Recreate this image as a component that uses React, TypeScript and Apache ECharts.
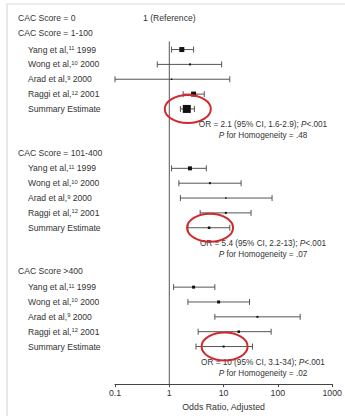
import React, { useEffect, useRef } from "react";
import * as echarts from "echarts";

const FONT = "'Liberation Sans', Arial, sans-serif";
const TEXT = "#333";
const LINE = "#555";
const RED = "#cf2a2f";

// ---- data ----
const referenceLabel = "CAC Score = 0";
const referenceNote = "1 (Reference)";
const groupLabels = ["CAC Score = 1-100", "CAC Score = 101-400", "CAC Score >400"];
const studyNames = ["Yang et al,", "Wong et al,", "Arad et al,", "Raggi et al,"];
const studyRefs = ["11", "10", "9", "12"];
const studyYears = ["1999", "2000", "2000", "2001"];
const summaryLabel = "Summary Estimate";

// odds ratio, lower / upper 95% CI; last entry of each array = summary estimate
const or1 = [1.7, 2.4, 1.1, 2.8, 2.1];
const lo1 = [1.1, 0.6, 0.1, 1.8, 1.6];
const hi1 = [2.8, 9.2, 13, 4.4, 2.9];
const wt1 = [5, 2, 1.5, 5, 8];

const or2 = [2.4, 5.6, 11, 11, 5.4];
const lo2 = [1.1, 1.5, 1.6, 3.7, 2.2];
const hi2 = [4.8, 21, 78, 32, 13];
const wt2 = [4, 2, 1.5, 2, 2.5];

const or3 = [2.8, 8.1, 42, 19, 10];
const lo3 = [1.2, 2.2, 6.9, 3.4, 3.1];
const hi3 = [6.9, 30, 257, 75, 34];
const wt3 = [3, 3, 2, 2.5, 2];

const summaryOR = ["2.1", "5.4", "10"];
const summaryCI = ["1.6-2.9", "2.2-13", "3.1-34"];
const summaryP = ["<.001", "<.001", "<.001"];
const homogeneityP = [".48", ".07", ".02"];

const xTicks = [0.1, 1, 10, 100, 1000];
const xTickLabels = ["0.1", "1", "10", "100", "1000"];
const axisTitle = "Odds Ratio, Adjusted";

// ---- layout (row positions) ----
const referenceRow = -0.13;
const headerRows = [0.87, 9.0, 16.93];
const groupStartRows = [2, 10, 18];
const refLineTop = 1.45;
const yMin = -1;
const yMax = 24.53;

const groups = [
  { or: or1, lo: lo1, hi: hi1, wt: wt1 },
  { or: or2, lo: lo2, hi: hi2, wt: wt2 },
  { or: or3, lo: lo3, hi: hi3, wt: wt3 },
];

export default function App() {
  const ref = useRef<HTMLDivElement>(null);

  useEffect(() => {
    if (!ref.current) return;
    const chart = echarts.init(ref.current, undefined, { renderer: "svg" });

    const ciData: number[][] = [];
    groups.forEach((g, gi) => {
      g.or.forEach((v, i) => {
        ciData.push([g.lo[i], g.hi[i], v, groupStartRows[gi] + i, g.wt[i]]);
      });
    });

    chart.setOption({
      animation: false,
      backgroundColor: "#fff",
      grid: { left: 115, right: 6, top: 5, bottom: 28 },
      xAxis: {
        type: "log",
        logBase: 10,
        min: xTicks[0],
        max: xTicks[xTicks.length - 1],
        position: "bottom",
        axisLine: { show: true, onZero: false, lineStyle: { color: "#444", width: 1 } },
        axisTick: { show: true, length: 3, lineStyle: { color: "#444" } },
        minorTick: { show: false },
        splitLine: { show: false },
        axisLabel: {
          fontFamily: FONT,
          fontSize: 8.8,
          color: TEXT,
          margin: 4,
          showMaxLabel: true,
          showMinLabel: true,
          formatter: (v: number) => {
            const idx = xTicks.findIndex((t) => Math.abs(Math.log10(t) - Math.log10(v)) < 1e-6);
            return idx >= 0 ? xTickLabels[idx] : "";
          },
        },
        name: axisTitle,
        nameLocation: "middle",
        nameGap: 17,
        nameTextStyle: { fontFamily: FONT, fontSize: 8.8, color: TEXT },
      },
      yAxis: {
        type: "value",
        inverse: true,
        min: yMin,
        max: yMax,
        show: false,
      },
      series: [
        {
          type: "line",
          data: [
            [1, refLineTop],
            [1, yMax],
          ],
          symbol: "none",
          lineStyle: { color: LINE, width: 1 },
          silent: true,
        },
        {
          type: "custom",
          data: ciData,
          encode: { x: [0, 1, 2], y: 3 },
          silent: true,
          renderItem: (params: any, api: any) => {
            const r = api.value(3);
            const lo = api.coord([api.value(0), r]);
            const hi = api.coord([api.value(1), r]);
            const pt = api.coord([api.value(2), r]);
            const s = api.value(4);
            const cap = 3;
            const ls = { stroke: LINE, lineWidth: 1 };
            return {
              type: "group",
              children: [
                { type: "line", shape: { x1: lo[0], y1: lo[1], x2: hi[0], y2: hi[1] }, style: ls },
                { type: "line", shape: { x1: lo[0], y1: lo[1] - cap, x2: lo[0], y2: lo[1] + cap }, style: ls },
                { type: "line", shape: { x1: hi[0], y1: hi[1] - cap, x2: hi[0], y2: hi[1] + cap }, style: ls },
                {
                  type: "rect",
                  shape: { x: pt[0] - s / 2, y: pt[1] - s / 2, width: s, height: s },
                  style: { fill: "#111" },
                },
              ],
            };
          },
        },
      ],
    });

    const px = (x: number, r: number) => chart.convertToPixel({ gridIndex: 0 }, [x, r]) as number[];
    const baseText = { fontFamily: FONT, fontSize: 8.6, fill: TEXT };
    const noteText = { fontFamily: FONT, fontSize: 8.2, fill: TEXT };
    const rich = {
      sup: { fontFamily: FONT, fontSize: 5.8, fill: TEXT, verticalAlign: "top" },
      i: { fontFamily: FONT, fontSize: 8.2, fill: TEXT, fontStyle: "italic" },
    };

    const graphics: any[] = [];
    graphics.push({
      type: "rect",
      shape: { x: 7, y: 4, width: 420, height: 520 },
      style: { fill: "none", stroke: "#d9d9d9", lineWidth: 1.2 },
      silent: true,
      z: 0,
    });

    const refY = px(1, referenceRow);
    graphics.push({
      type: "text",
      x: 18,
      y: refY[1],
      style: { ...baseText, text: referenceLabel, textVerticalAlign: "middle" },
    });
    graphics.push({
      type: "text",
      x: refY[0],
      y: refY[1],
      style: { ...baseText, text: referenceNote, textAlign: "center", textVerticalAlign: "middle" },
    });

    groups.forEach((g, gi) => {
      const hy = px(1, headerRows[gi])[1];
      graphics.push({
        type: "text",
        x: 18,
        y: hy,
        style: { ...baseText, text: groupLabels[gi], textVerticalAlign: "middle" },
      });
      studyNames.forEach((name, si) => {
        const y = px(1, groupStartRows[gi] + si)[1];
        graphics.push({
          type: "text",
          x: 28,
          y,
          style: {
            ...baseText,
            text: `${name}{sup|${studyRefs[si]}} ${studyYears[si]}`,
            rich,
            textVerticalAlign: "middle",
          },
        });
      });
      const sRow = groupStartRows[gi] + studyNames.length;
      const sp = px(g.or[studyNames.length], sRow);
      graphics.push({
        type: "text",
        x: 28,
        y: sp[1],
        style: { ...baseText, text: summaryLabel, textVerticalAlign: "middle" },
      });
      graphics.push({
        type: "text",
        x: 263,
        y: sp[1] + 16,
        style: {
          ...noteText,
          text: `OR = ${summaryOR[gi]} (95% CI, ${summaryCI[gi]}); {i|P}${summaryP[gi]}`,
          rich,
          textAlign: "center",
          textVerticalAlign: "middle",
        },
      });
      graphics.push({
        type: "text",
        x: 263,
        y: sp[1] + 27,
        style: {
          ...noteText,
          text: `{i|P} for Homogeneity = ${homogeneityP[gi]}`,
          rich,
          textAlign: "center",
          textVerticalAlign: "middle",
        },
      });
      graphics.push({
        type: "ellipse",
        shape: { cx: sp[0] + 1, cy: sp[1], rx: 23, ry: 14 },
        style: { fill: "none", stroke: RED, lineWidth: 2 },
        silent: true,
        z: 100,
      });
    });

    chart.setOption({ graphic: graphics });

    return () => chart.dispose();
  }, []);

  return (
    <div
      ref={ref}
      style={{ position: "fixed", left: 0, top: 0, width: 345, height: 416, background: "#fff" }}
    />
  );
}
